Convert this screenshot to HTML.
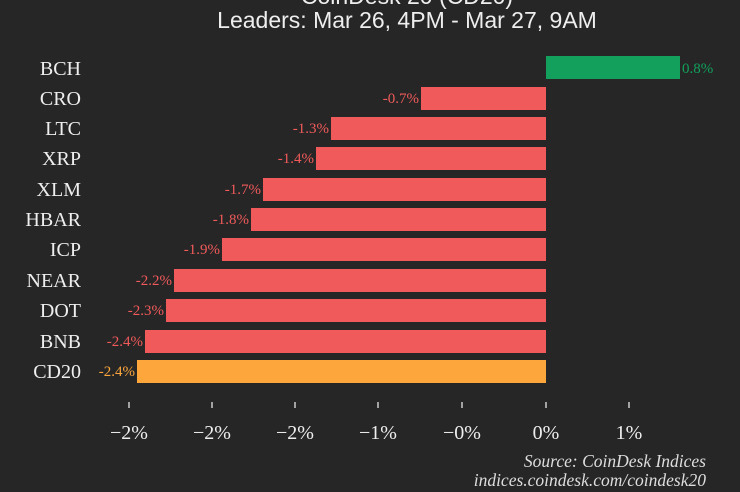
<!DOCTYPE html>
<html><head><style>
body{margin:0;background:#262626;}
svg{display:block}
</style></head><body>
<svg width="740" height="492" viewBox="0 0 740 492" xmlns="http://www.w3.org/2000/svg">
<rect width="740" height="492" fill="#262626"/>
<g font-family="Liberation Sans, sans-serif" font-size="23" fill="#eeeeee" text-anchor="middle">
<text x="407" y="4">CoinDesk 20 (CD20)</text>
<text x="407" y="28">Leaders: Mar 26, 4PM - Mar 27, 9AM</text>
</g>
<g font-family="Liberation Serif, serif">
<rect x="546" y="56" width="134" height="23" fill="#12a05c"/>
<text x="682" y="73" font-size="15" fill="#12a05c">0.8%</text>
<g fill="#f05a5b">
<rect x="421" y="87" width="125" height="23"/>
<rect x="331" y="117" width="215" height="23"/>
<rect x="316" y="147" width="230" height="23"/>
<rect x="263" y="178" width="283" height="23"/>
<rect x="251" y="208" width="295" height="23"/>
<rect x="222" y="238" width="324" height="23"/>
<rect x="174" y="269" width="372" height="23"/>
<rect x="166" y="299" width="380" height="23"/>
<rect x="145" y="330" width="401" height="23"/>
</g>
<rect x="137" y="360" width="409" height="23" fill="#fca63c"/>
<g font-size="15" fill="#f05a5b" text-anchor="end">
<text x="419" y="103">-0.7%</text>
<text x="329" y="133">-1.3%</text>
<text x="314" y="163">-1.4%</text>
<text x="261" y="194">-1.7%</text>
<text x="249" y="224">-1.8%</text>
<text x="220" y="254">-1.9%</text>
<text x="172" y="285">-2.2%</text>
<text x="164" y="315">-2.3%</text>
<text x="143" y="346">-2.4%</text>
<text x="135" y="376" fill="#fca63c">-2.4%</text>
</g>
<g font-size="20" fill="#eeeeee" text-anchor="end">
<text x="81" y="75">BCH</text>
<text x="81" y="105">CRO</text>
<text x="81" y="135">LTC</text>
<text x="81" y="165">XRP</text>
<text x="81" y="196">XLM</text>
<text x="81" y="226">HBAR</text>
<text x="81" y="256">ICP</text>
<text x="81" y="287">NEAR</text>
<text x="81" y="317">DOT</text>
<text x="81" y="348">BNB</text>
<text x="81" y="378">CD20</text>
</g>
<g stroke="#cccccc" stroke-width="1.5">
<line x1="129" y1="402" x2="129" y2="408"/><line x1="212" y1="402" x2="212" y2="408"/>
<line x1="295" y1="402" x2="295" y2="408"/><line x1="378" y1="402" x2="378" y2="408"/>
<line x1="462" y1="402" x2="462" y2="408"/><line x1="546" y1="402" x2="546" y2="408"/>
<line x1="629" y1="402" x2="629" y2="408"/>
</g>
<g font-size="20" fill="#eeeeee" text-anchor="middle">
<text x="129" y="439">−2%</text><text x="212" y="439">−2%</text><text x="295" y="439">−2%</text>
<text x="378" y="439">−1%</text><text x="462" y="439">−0%</text><text x="546" y="439">0%</text>
<text x="629" y="439">1%</text>
</g>
<g font-size="17.5" font-style="italic" fill="#dddddd" text-anchor="end">
<text x="706" y="467">Source: CoinDesk Indices</text>
<text x="706" y="486">indices.coindesk.com/coindesk20</text>
</g>
</g>
</svg>
</body></html>
